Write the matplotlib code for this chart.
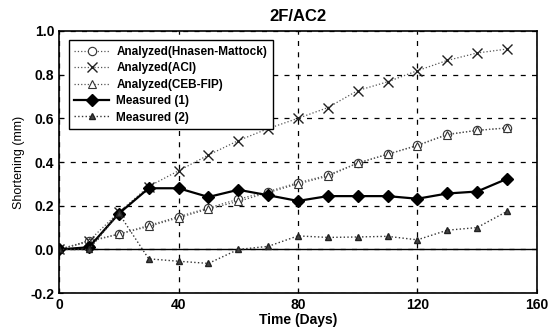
import matplotlib
matplotlib.use("Agg")
import matplotlib.pyplot as plt

plt.rcParams["font.family"] = ["Liberation Sans", "DejaVu Sans"]

days = [0, 10, 20, 30, 40, 50, 60, 70, 80, 90, 100, 110, 120, 130, 140, 150]
hansen = [0.0, 0.04, 0.07, 0.11, 0.15, 0.19, 0.23, 0.265, 0.305, 0.34, 0.395, 0.436, 0.477, 0.527, 0.545, 0.556]
aci = [0.0, 0.04, 0.17, 0.288, 0.36, 0.432, 0.498, 0.553, 0.60, 0.649, 0.727, 0.767, 0.818, 0.865, 0.899, 0.917]
ceb = [0.0, 0.035, 0.07, 0.105, 0.145, 0.185, 0.22, 0.26, 0.30, 0.335, 0.395, 0.435, 0.475, 0.525, 0.545, 0.556]
measured1 = [0.0, 0.01, 0.164, 0.28, 0.28, 0.24, 0.273, 0.248, 0.222, 0.244, 0.244, 0.244, 0.232, 0.256, 0.265, 0.323]
measured2 = [0.0, 0.0, 0.165, -0.043, -0.054, -0.064, 0.0, 0.014, 0.062, 0.055, 0.057, 0.06, 0.044, 0.088, 0.10, 0.174]

fig = plt.figure(figsize=(5.58, 3.29), dpi=100)
ax = fig.add_axes([0.106, 0.109, 0.856, 0.797])

grey = "#555555"
ax.plot(days, hansen, ls=":", lw=0.9, color=grey, marker="o", ms=6,
        mfc="white", mec="#333333", mew=0.8, label="Analyzed(Hnasen-Mattock)")
ax.plot(days, aci, ls=":", lw=0.9, color=grey, marker="x", ms=7,
        mec="#222222", mew=1.0, label="Analyzed(ACI)")
ax.plot(days, ceb, ls=":", lw=0.9, color=grey, marker="^", ms=6,
        mfc="white", mec="#333333", mew=0.8, label="Analyzed(CEB-FIP)")
ax.plot(days, measured1, ls="-", lw=1.6, color="black", marker="D", ms=6,
        mfc="black", mec="black", label="Measured (1)")
ax.plot(days, measured2, ls=":", lw=1.0, color="#333333", marker="^", ms=5,
        mfc="#444444", mec="#222222", label="Measured (2)")

ax.axhline(0, color="black", lw=1.0, zorder=1)
ax.set_xlim(0, 160)
ax.set_ylim(-0.2, 1.0)
ax.set_xticks([0, 40, 80, 120, 160])
ax.set_yticks([-0.2, 0.0, 0.2, 0.4, 0.6, 0.8, 1.0])
ax.set_yticklabels(["-0.2", "0.0", "0.2", "0.4", "0.6", "0.8", "1.0"])
ax.grid(True, ls=(0, (4, 5)), color="black", lw=0.9)
ax.tick_params(labelsize=10, length=3, direction="in")
for lbl in ax.get_xticklabels() + ax.get_yticklabels():
    lbl.set_fontweight("bold")
for s in ax.spines.values():
    s.set_linewidth(1.2)

ax.set_title("2F/AC2", fontsize=12, fontweight="bold", pad=7)
ax.set_xlabel("Time (Days)", fontsize=10, fontweight="bold", labelpad=1)
ax.set_ylabel("Shortening (mm)", fontsize=9, labelpad=4)

leg = ax.legend(loc="upper left", fontsize=8.5, frameon=True, fancybox=False,
                edgecolor="black", framealpha=1, handlelength=3.0,
                borderaxespad=0.8, labelspacing=0.38, borderpad=0.45,
                handletextpad=0.6)
leg.get_frame().set_linewidth(1.0)
for t in leg.get_texts():
    t.set_fontweight("bold")

fig.savefig("out.png", dpi=100)
